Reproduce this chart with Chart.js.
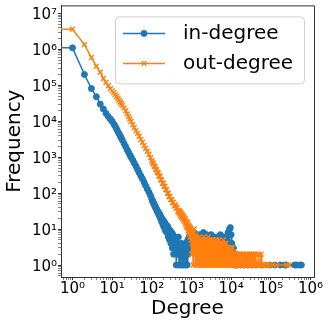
<!DOCTYPE html>
<html>
<head>
<meta charset="utf-8">
<script src="https://cdn.jsdelivr.net/npm/chart.js@4/dist/chart.umd.min.js"></script>
<style>
  html, body { margin: 0; padding: 0; background: #fff; }
  canvas { display: block; }
</style>
</head>
<body>
<canvas id="degreeChart" width="329" height="327"></canvas>
<script>
// degree -> number of nodes
const inDegree = [0, 1, 2, 3, 4, 5, 6, 7, 8, 9, 10, 11, 12, 13, 14, 15, 16, 17, 18, 20, 22, 24, 26, 28, 30, 33, 36, 40, 44, 48, 53, 58, 64, 70, 77, 85, 93,
  100, 104, 108, 112, 116, 120, 125, 130, 135, 140, 146, 152, 158, 164, 170, 177, 184, 191, 198, 206, 214, 222, 231, 240, 250, 260, 270, 281, 292, 304,
  316, 328, 341, 355, 369, 384, 399, 415, 432, 449, 467, 486, 505, 525, 546, 568, 591, 614, 639, 664, 691, 718, 747, 777, 808, 840, 874, 909, 945, 983,
  1020, 1070, 1120, 1170, 1220, 1280, 1340, 1400, 1460, 1530, 1600, 1670, 1750, 1830, 1910, 2000, 2090, 2190, 2290, 2390,
  2500, 2620, 2740, 2860, 2990, 3130, 3270, 3420, 3580, 3740, 3910, 4090, 4280, 4470, 4680, 4890, 5110, 5350, 5590, 5850,
  6110, 6390, 6680, 6990, 7310, 7640, 7990, 8350, 8730, 9130, 9550, 9980, 10400, 10900, 11400, 11900, 12500, 13000, 14500, 17000,
  21000, 26000, 33000, 42000, 60000, 94000, 127000, 173000, 226000, 247000, 400000, 444000, 537000, 590000];
const inCount = [4.0e6, 1.1e6, 2.0e5, 8.1e4, 4.8e4, 3.0e4, 2.2e4, 1.65e4, 1.35e4, 1.15e4, 1.0e4, 8.4e3, 7.2e3, 6.0e3, 5.1e3, 4.5e3, 3.9e3, 3.4e3, 3.0e3, 2.4e3, 1.95e3, 1.6e3, 1.35e3, 1.15e3, 1.0e3, 830, 690, 560, 450, 370, 300, 250, 200, 160, 130, 105, 85,
  68, 60, 58, 50, 49, 42, 41, 35, 35, 29, 30, 24, 26, 20, 22, 16, 19, 13, 17, 11, 15, 9, 13, 8, 12, 6, 10, 5, 9, 4,
  8, 3, 7, 2, 6, 3, 5, 1, 4, 2, 6, 1, 3, 1, 4, 2, 1, 3, 1, 2, 4, 1, 3, 1, 5, 2, 6, 3, 7, 4,
  4, 6, 3, 8, 4, 6, 3, 7, 4, 5, 3, 7, 4, 6, 3, 8, 4, 6, 3, 7,
  4, 5, 3, 6, 4, 7, 3, 5, 4, 6, 3, 5, 4, 6, 3, 5, 4, 7, 3, 5,
  4, 6, 3, 5, 4, 6, 5, 8, 7, 10, 11, 7, 4, 2, 3, 1, 2, 1, 1, 1,
  1, 1, 1, 1, 1, 1, 1, 1, 1, 1, 1, 1, 1, 1];

const outDegree = [0, 1, 2, 3, 4, 5, 6, 7, 8, 9, 10, 11, 12, 13, 14, 15, 16, 17, 18, 20, 22, 24, 26, 28, 30, 33, 36, 40, 44, 48, 53, 58, 64, 70, 77, 85, 93,
  100, 105, 110, 115, 120, 126, 132, 138, 145, 152, 160, 168, 175, 185, 195, 204, 213, 224, 235, 247, 260, 272, 285, 300, 317, 333, 350, 370, 390, 410,
  430, 455, 470, 485, 500, 515, 530, 545, 560, 575, 590, 605, 620, 640, 660, 680, 700, 720, 740, 760, 780, 800, 820, 840, 860, 880, 900, 920, 940, 960, 980,
  1000, 1020, 1040, 1060, 1080, 1100, 1125, 1147, 1170, 1192, 1215, 1240, 1265, 1290, 1315, 1342, 1370, 1397, 1425, 1452,
  1480, 1510, 1540, 1570, 1600, 1632, 1665, 1697, 1730, 1765, 1800, 1837, 1875, 1912, 1950, 1987, 2025, 2065, 2105, 2147,
  2190, 2235, 2280, 2325, 2370, 2417, 2465, 2515, 2565, 2615, 2665, 2720, 2775, 2830, 2885, 2942, 3000, 3060, 3120, 3182,
  3245, 3310, 3375, 3442, 3510, 3580, 3650, 3722, 3795, 3872, 3950, 4027, 4105, 4187, 4270, 4355, 4440, 4530, 4620, 4710,
  4800, 4897, 4995, 5095, 5195, 5297, 5400, 5510, 5620, 5732, 5845, 5960, 6075, 6197, 6320, 6445, 6570, 6702, 6835, 6972,
  7110, 7252, 7395, 7542, 7690, 7845, 8000, 8160, 8320, 8485, 8650, 8825, 9000, 9180, 9360, 9545, 9730, 9925, 10120, 10325,
  10530, 10740, 10950, 11167, 11385, 11612, 11840, 12077, 12315, 12562, 12810, 13065, 13320, 13585, 13850, 14127,
  14405, 14985, 15585, 16205, 16855, 17530, 18230, 18960, 19715, 20505, 21325, 22180,
  23065, 23990, 24950, 25945, 26985, 28065, 29185, 30355, 31570, 32830, 34145, 35510, 36930, 38410, 39945, 41545, 43205, 44935, 46730, 48600,
  50545, 52565, 54670, 56855, 59130, 61495, 63955, 66515, 69175, 71940, 74820, 77810, 80925, 84160, 113000, 140000, 250000, 290000];
const outCount = [7.4e6, 3.6e6, 1.35e6, 5.9e5, 3.4e5, 2.3e5, 1.55e5, 1.2e5, 9.7e4, 8.0e4, 7.0e4, 6.2e4, 5.5e4, 4.9e4, 4.3e4, 3.8e4, 3.4e4, 3.05e4, 2.75e4, 2.35e4, 1.95e4, 1.6e4, 1.35e4, 1.15e4, 9.8e3, 8.0e3, 6.7e3, 5.4e3, 4.6e3, 3.8e3, 3.1e3, 2.6e3, 2.1e3, 1.75e3, 1.45e3, 1.2e3, 960,
  800, 700, 660, 570, 540, 465, 440, 380, 360, 305, 290, 240, 232, 192, 186, 155, 152, 126, 124, 100, 99, 81, 81, 66, 66, 54, 56, 44, 47, 37,
  41, 31, 30, 33, 27, 31, 24, 28, 22, 26, 20, 24, 18, 22, 16, 20, 14, 18, 12, 16, 11, 15, 9, 13, 8, 12, 7, 11, 6, 10, 5,
  9, 2, 4, 6, 8, 1, 3, 5, 10, 4, 2, 5, 7, 1, 3, 4, 6, 1, 2, 4,
  5, 2, 1, 3, 6, 1, 2, 5, 4, 2, 1, 3, 5, 1, 3, 4, 6, 2, 1, 5,
  4, 1, 2, 4, 5, 2, 1, 5, 3, 1, 6, 3, 1, 5, 4, 1, 2, 4, 5, 2,
  1, 4, 3, 1, 5, 3, 1, 2, 4, 1, 2, 4, 5, 2, 1, 5, 3, 1, 4, 2,
  1, 3, 5, 1, 2, 4, 3, 2, 1, 3, 4, 1, 2, 3, 5, 2, 1, 4, 3, 1,
  2, 3, 4, 1, 1, 2, 3, 2, 1, 2, 3, 1, 2, 3, 1, 2, 3, 1, 1, 3,
  2, 1, 3, 2, 1, 2, 2, 1, 1, 2, 2, 1, 1, 2, 2, 1,
  1, 2, 1, 2, 1, 2, 1, 1, 2, 1, 2, 1,
  1, 2, 1, 2, 1, 1, 2, 1, 1, 2, 1, 1, 2, 1, 1, 2, 1, 1, 1, 2,
  1, 1, 1, 2, 1, 1, 1, 1, 1, 1, 1, 1, 1, 1, 1, 1, 1, 1];

const xTickValues = [1, 10, 100, 1e3, 1e4, 1e5, 1e6];
const xTickLabels = ['10⁰', '10¹', '10²', '10³', '10⁴', '10⁵', '10⁶'];
const yTickValues = [1, 10, 100, 1e3, 1e4, 1e5, 1e6, 1e7];
const yTickLabels = ['10⁰', '10¹', '10²', '10³', '10⁴', '10⁵', '10⁶', '10⁷'];

const FONT = '"DejaVu Sans", sans-serif';
const AXIS = '#333';

// matplotlib sends log(0) far off to the left, do the same so the first segment runs flat
const toPoints = (deg, cnt) => deg.map((d, i) => ({ x: d === 0 ? 1e-30 : d, y: cnt[i] }));

// major + minor (2..9) ticks inside [min, max]
function logTicks(min, max) {
  const out = [];
  for (let e = Math.floor(Math.log10(min)); e <= Math.ceil(Math.log10(max)); e++) {
    for (let k = 1; k <= 9; k++) {
      const v = k * Math.pow(10, e);
      if (v >= min && v <= max) out.push({ value: v });
    }
  }
  return out;
}
const isMajor = v => Math.abs(Math.log10(v) - Math.round(Math.log10(v))) < 1e-9;

const frame = {
  id: 'frame',
  afterDraw(chart) {
    const { ctx, chartArea: a } = chart;
    ctx.save();
    ctx.strokeStyle = AXIS;
    ctx.lineWidth = 1;
    ctx.beginPath();
    ctx.moveTo(a.left, a.top + 0.5);
    ctx.lineTo(a.right + 0.5, a.top + 0.5);
    ctx.lineTo(a.right + 0.5, a.bottom);
    ctx.stroke();
    ctx.restore();
  }
};

const legendBox = {
  id: 'legendBox',
  afterDatasetsDraw(chart) {
    const { ctx, chartArea: a } = chart;
    const w = 189, h = 67;
    const bx = a.right - 10 - w, by = a.top + 11;
    ctx.save();
    ctx.beginPath();
    ctx.roundRect(bx + 0.5, by + 0.5, w, h, 4);
    ctx.fillStyle = 'rgba(255,255,255,0.8)';
    ctx.fill();
    ctx.strokeStyle = '#d0d0d0';
    ctx.lineWidth = 1;
    ctx.stroke();
    chart.data.datasets.forEach((ds, i) => {
      const y = by + 17 + i * 30;
      ctx.strokeStyle = ds.borderColor;
      ctx.lineWidth = 1.5;
      ctx.beginPath();
      ctx.moveTo(bx + 8, y);
      ctx.lineTo(bx + 50, y);
      ctx.stroke();
      ctx.fillStyle = ds.pointBackgroundColor;
      ctx.strokeStyle = ds.pointBorderColor;
      ctx.lineWidth = ds.pointBorderWidth;
      Chart.helpers.drawPoint(ctx, {
        pointStyle: ds.pointStyle, radius: ds.pointRadius, borderWidth: ds.pointBorderWidth, rotation: 0
      }, bx + 29, y);
      ctx.fillStyle = '#000';
      ctx.font = '20px ' + FONT;
      ctx.textBaseline = 'middle';
      ctx.fillText(ds.label, bx + 68, y);
    });
    ctx.restore();
  }
};

const yMin = Math.pow(10, -0.333), yMax = Math.pow(10, 7.222);
const xMin = Math.pow(10, -0.29), xMax = Math.pow(10, 6.09);

new Chart(document.getElementById('degreeChart').getContext('2d'), {
  type: 'line',
  data: {
    datasets: [{
      label: 'in-degree',
      data: toPoints(inDegree, inCount),
      borderColor: '#1f77b4',
      backgroundColor: '#1f77b4',
      pointBackgroundColor: '#1f77b4',
      pointBorderColor: '#1f77b4',
      borderWidth: 1.5,
      pointStyle: 'circle',
      pointRadius: 3,
      pointBorderWidth: 1,
      order: 2
    }, {
      label: 'out-degree',
      data: toPoints(outDegree, outCount),
      borderColor: '#ff7f0e',
      backgroundColor: '#ff7f0e',
      pointBackgroundColor: '#ff7f0e',
      pointBorderColor: '#ff7f0e',
      borderWidth: 1.5,
      pointStyle: 'crossRot',
      pointRadius: 3.5,
      pointBorderWidth: 1.4,
      order: 1
    }]
  },
  options: {
    responsive: false,
    animation: false,
    devicePixelRatio: 1,
    layout: { padding: { top: 5, right: 15, left: 0, bottom: 0 } },
    plugins: { legend: { display: false }, tooltip: { enabled: false } },
    scales: {
      x: {
        type: 'logarithmic',
        min: xMin,
        max: xMax,
        afterBuildTicks: s => { s.ticks = logTicks(xMin, xMax); },
        afterFit: s => { s.height = 50; s.paddingLeft = 0; s.paddingRight = 0; },
        ticks: {
          autoSkip: false, maxRotation: 0, padding: 0, color: '#000',
          font: { family: FONT, size: 15 },
          callback: v => { const i = xTickValues.indexOf(v); return i < 0 ? '' : xTickLabels[i]; }
        },
        grid: {
          drawOnChartArea: false, tickLength: 3, tickColor: AXIS,
          tickWidth: c => isMajor(c.tick.value) ? 1 : 0.6
        },
        border: { color: AXIS, width: 1 },
        title: { display: true, text: 'Degree', color: '#000', font: { family: FONT, size: 20 }, padding: { top: 0, bottom: 6 } }
      },
      y: {
        type: 'logarithmic',
        min: yMin,
        max: yMax,
        afterBuildTicks: s => { s.ticks = logTicks(yMin, yMax); },
        afterFit: s => { s.width = 61; s.paddingTop = 0; s.paddingBottom = 0; },
        ticks: {
          autoSkip: false, padding: 1, labelOffset: 2, color: '#000',
          font: { family: FONT, size: 15 },
          callback: v => { const i = yTickValues.indexOf(v); return i < 0 ? '' : yTickLabels[i]; }
        },
        grid: {
          drawOnChartArea: false, tickLength: 3, tickColor: AXIS,
          tickWidth: c => isMajor(c.tick.value) ? 1 : 0.6
        },
        border: { color: AXIS, width: 1 },
        title: { display: true, text: 'Frequency', color: '#000', font: { family: FONT, size: 20 }, padding: { top: 3, bottom: 0 } }
      }
    }
  },
  plugins: [frame, legendBox]
});
</script>
</body>
</html>
